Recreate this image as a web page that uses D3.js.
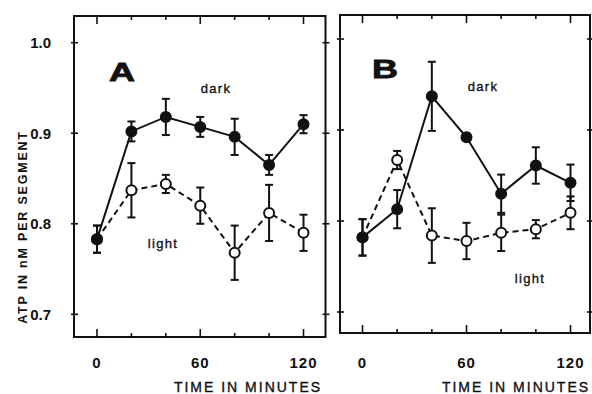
<!DOCTYPE html>
<html>
<head>
<meta charset="utf-8">
<script src="https://cdn.jsdelivr.net/npm/d3@7"></script>
<style>
  html, body { margin: 0; padding: 0; background: #fff; }
  svg { display: block; font-family: "Liberation Sans", Arial, sans-serif; }
</style>
</head>
<body>
<div id="chart"></div>
<script>
// time points (minutes)
const times = [0, 20, 40, 60, 80, 100, 120];
const xTickLabels = [0, 60, 120];
const yTicks = [0.7, 0.8, 0.9, 1.0];

// panel A
const darkA = [0.783, 0.902, 0.918, 0.907, 0.896, 0.865, 0.910];
const darkAErr = [0.015, 0.011, 0.020, 0.011, 0.020, 0.011, 0.010];
const lightA = [0.783, 0.837, 0.844, 0.820, 0.768, 0.812, 0.790];
const lightAErr = [0.015, 0.030, 0.010, 0.020, 0.030, 0.031, 0.020];

// panel B
const darkB = [0.782, 0.813, 0.937, 0.892, 0.830, 0.861, 0.842];
const darkBErr = [0.020, 0.021, 0.038, 0.004, 0.021, 0.020, 0.020];
const lightB = [0.782, 0.867, 0.784, 0.778, 0.787, 0.791, 0.809];
const lightBErr = [0.020, 0.010, 0.030, 0.020, 0.020, 0.010, 0.018];

const width = 592, height = 394;
const ink = '#111';

const svg = d3.select('#chart')
  .append('svg')
  .attr('width', width)
  .attr('height', height)
  .attr('viewBox', `0 0 ${width} ${height}`);

const panels = [
  {
    letter: 'A', dark: darkA, darkErr: darkAErr, light: lightA, lightErr: lightAErr,
    frame: { x0: 74, x1: 325.5, y0: 16, y1: 337 },
    xRange: [97, 303.5], yRange: [314.3, 42.7],
    letterPos: [109, 81], darkPos: [216, 93], lightPos: [163, 248],
    showYLabels: true, titleX: 248
  },
  {
    letter: 'B', dark: darkB, darkErr: darkBErr, light: lightB, lightErr: lightBErr,
    frame: { x0: 340, x1: 590, y0: 15, y1: 333 },
    xRange: [362.5, 570.5], yRange: [312, 39],
    letterPos: [372, 78], darkPos: [483, 91], lightPos: [530, 283],
    showYLabels: false, titleX: 516
  }
];

// slightly heavy text, like the printed figure
const heavy = sel => sel
  .attr('fill', ink)
  .attr('stroke', ink)
  .attr('stroke-width', 0.35);

panels.forEach(p => {
  const g = svg.append('g').attr('class', `panel-${p.letter}`);
  const f = p.frame;

  const x = d3.scaleLinear().domain([0, 120]).range(p.xRange);
  const y = d3.scaleLinear().domain([0.7, 1.0]).range(p.yRange);

  // frame
  g.append('rect')
    .attr('x', f.x0).attr('y', f.y0)
    .attr('width', f.x1 - f.x0).attr('height', f.y1 - f.y0)
    .attr('fill', 'none')
    .attr('stroke', ink)
    .attr('stroke-width', 2);

  // x ticks, majors longer than minors, drawn inward on top and bottom
  const tickLen = d => (xTickLabels.includes(d) ? 8 : 4);
  g.selectAll('.xtick-b')
    .data(times)
    .enter()
    .append('line')
    .attr('x1', d => x(d)).attr('x2', d => x(d))
    .attr('y1', f.y1).attr('y2', d => f.y1 - tickLen(d))
    .attr('stroke', ink).attr('stroke-width', 1.6);
  g.selectAll('.xtick-t')
    .data(times)
    .enter()
    .append('line')
    .attr('x1', d => x(d)).attr('x2', d => x(d))
    .attr('y1', f.y0).attr('y2', d => f.y0 + tickLen(d))
    .attr('stroke', ink).attr('stroke-width', 1.6);

  // y ticks on both sides
  [f.x0, f.x1].forEach(xx => {
    g.selectAll(null)
      .data(yTicks)
      .enter()
      .append('line')
      .attr('x1', xx - 3).attr('x2', xx + 4)
      .attr('y1', d => y(d)).attr('y2', d => y(d))
      .attr('stroke', ink).attr('stroke-width', 1.6);
  });

  // x tick labels
  g.selectAll('.xlab')
    .data(xTickLabels)
    .enter()
    .append('text')
    .attr('x', d => x(d))
    .attr('y', 368)
    .attr('text-anchor', 'middle')
    .style('font-size', '15px')
    .style('font-weight', 'bold')
    .style('letter-spacing', '1px')
    .attr('fill', ink)
    .text(d => d);

  if (p.showYLabels) {
    g.selectAll('.ylab')
      .data(yTicks)
      .enter()
      .append('text')
      .attr('x', 51)
      .attr('y', d => y(d) + 5.5)
      .attr('text-anchor', 'end')
      .style('font-size', '15px')
      .style('font-weight', 'bold')
      .attr('fill', ink)
      .text(d => d3.format('.1f')(d));
  }

  // x axis title
  g.append('text')
    .attr('x', p.titleX)
    .attr('y', 392)
    .attr('text-anchor', 'middle')
    .style('font-size', '14px')
    .style('letter-spacing', '2px')
    .call(heavy)
    .text('TIME IN MINUTES');

  const series = [
    { vals: p.light, err: p.lightErr, dash: '6,4', fill: '#fff' },
    { vals: p.dark, err: p.darkErr, dash: null, fill: ink }
  ];

  const line = d3.line()
    .x((d, i) => x(times[i]))
    .y(d => y(d));

  // lines
  series.forEach(s => {
    g.append('path')
      .datum(s.vals)
      .attr('d', line)
      .attr('fill', 'none')
      .attr('stroke', ink)
      .attr('stroke-width', 2)
      .attr('stroke-dasharray', s.dash);
  });

  // error bars
  series.forEach(s => {
    const eb = g.selectAll(null)
      .data(s.vals.map((v, i) => ({ t: times[i], v, e: s.err[i] })))
      .enter()
      .append('g');
    eb.append('line')
      .attr('x1', d => x(d.t)).attr('x2', d => x(d.t))
      .attr('y1', d => y(d.v - d.e)).attr('y2', d => y(d.v + d.e))
      .attr('stroke', ink).attr('stroke-width', 2);
    [-1, 1].forEach(sign => {
      eb.append('line')
        .attr('x1', d => x(d.t) - 4).attr('x2', d => x(d.t) + 4)
        .attr('y1', d => y(d.v + sign * d.e)).attr('y2', d => y(d.v + sign * d.e))
        .attr('stroke', ink).attr('stroke-width', 2);
    });
  });

  // markers
  series.forEach(s => {
    g.selectAll(null)
      .data(s.vals)
      .enter()
      .append('circle')
      .attr('cx', (d, i) => x(times[i]))
      .attr('cy', d => y(d))
      .attr('r', 5)
      .attr('fill', s.fill)
      .attr('stroke', ink)
      .attr('stroke-width', 2);
  });

  // panel letter
  g.append('text')
    .attr('x', p.letterPos[0])
    .attr('y', p.letterPos[1])
    .attr('textLength', 26)
    .attr('lengthAdjust', 'spacingAndGlyphs')
    .style('font-size', '26px')
    .style('font-weight', 'bold')
    .attr('fill', ink)
    .attr('stroke', ink)
    .attr('stroke-width', 0.8)
    .text(p.letter);

  // series labels
  g.append('text')
    .attr('x', p.darkPos[0]).attr('y', p.darkPos[1])
    .attr('text-anchor', 'middle')
    .style('font-size', '13px')
    .style('letter-spacing', '1.3px')
    .call(heavy)
    .text('dark');
  g.append('text')
    .attr('x', p.lightPos[0]).attr('y', p.lightPos[1])
    .attr('text-anchor', 'middle')
    .style('font-size', '13px')
    .style('letter-spacing', '1.3px')
    .call(heavy)
    .text('light');
});

// y axis title
svg.append('text')
  .attr('transform', 'translate(27,227) rotate(-90)')
  .attr('text-anchor', 'middle')
  .style('font-size', '12.5px')
  .style('font-weight', 'bold')
  .style('letter-spacing', '1.8px')
  .attr('fill', ink)
  .text('ATP IN nM PER SEGMENT');
</script>
</body>
</html>
